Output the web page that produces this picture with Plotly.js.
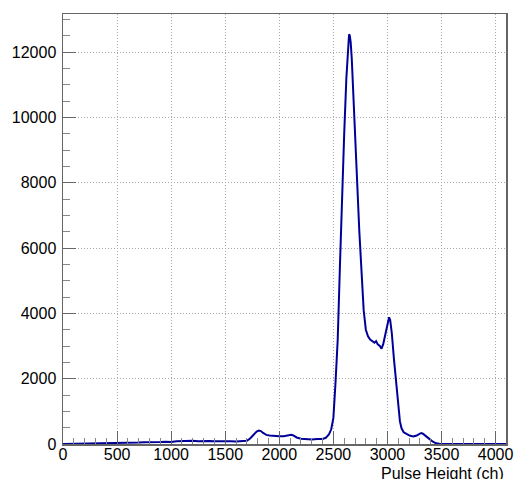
<!DOCTYPE html>
<html>
<head>
<meta charset="utf-8">
<script src="https://cdn.plot.ly/plotly-3.0.1.min.js"></script>
<style>html,body{margin:0;padding:0;background:#fff;}#chart{width:515px;height:479px;}</style>
</head>
<body>
<div id="chart"></div>
<script>
// Channel positions (ch) and counts
const channels = [0,50,100,150,200,250,300,350,400,450,500,550,600,650,700,750,800,850,900,950,
  1000,1050,1100,1150,1200,1250,1300,1350,1400,1450,1500,1550,1600,1650,1700,1730,1760,1790,1810,1830,
  1850,1880,1910,1950,2000,2040,2080,2110,2130,2160,2200,2250,2300,2350,2400,2430,2460,2480,2500,2520,
  2540,2560,2580,2600,2620,2635,2645,2652,2660,2670,2680,2700,2720,2740,2760,2780,2800,2820,2840,2860,
  2880,2895,2910,2930,2945,2960,2980,3000,3015,3025,3040,3060,3080,3100,3115,3130,3150,3180,3210,3240,
  3270,3300,3315,3330,3360,3390,3420,3450,3480,3500,3600,3700,3800,3900,4000,4096];
const counts = [0,2,3,5,5,8,10,12,15,20,22,25,35,40,45,55,50,65,60,70,
  65,85,95,90,100,85,95,90,85,90,80,85,80,90,100,170,280,380,410,395,
  340,280,260,245,235,240,255,280,260,200,160,145,140,150,155,190,300,450,800,1900,
  3200,5400,7700,9500,11200,12200,12550,12500,12300,11800,11000,9300,7800,6500,5300,4100,3500,3300,3200,3150,
  3100,3150,3050,3000,2920,3050,3350,3650,3880,3800,3400,2600,1900,1100,700,480,360,300,250,230,
  260,320,335,310,240,150,70,20,5,0,0,0,0,0,0,0];

const xTickVals = [0,500,1000,1500,2000,2500,3000,3500,4000];
const yTickVals = [0,2000,4000,6000,8000,10000,12000];
const xTitle = 'Pulse Height (ch)';

const axisColor = '#666666';
const font = {family: '"Liberation Sans", Arial, Helvetica, sans-serif', size: 16, color: '#000'};

const trace = {
  x: channels, y: counts, type: 'scatter', mode: 'lines',
  line: {color: '#000099', width: 2}, hoverinfo: 'skip'
};

const layout = {
  width: 515, height: 479,
  margin: {l: 63, r: 9, t: 14, b: 35, pad: 0},
  paper_bgcolor: '#fff', plot_bgcolor: '#fff',
  showlegend: false,
  font: font,
  xaxis: {
    range: [0, 4096], tickmode: 'array', tickvals: xTickVals, ticktext: xTickVals.map(String),
    ticks: 'inside', ticklen: 13, tickcolor: axisColor, tickwidth: 1,
    showline: true, linecolor: axisColor, linewidth: 1.5, mirror: true,
    showgrid: true, gridcolor: '#a8a8a8', gridwidth: 1, griddash: '1px,2px',
    zeroline: false, tickfont: font, ticklabelstandoff: -5,
    minor: {ticks: 'inside', ticklen: 6, dtick: 100, tick0: 0, tickcolor: '#888', showgrid: false}
  },
  yaxis: {
    range: [0, 13170], tickmode: 'array', tickvals: yTickVals, ticktext: yTickVals.map(String),
    ticks: 'inside', ticklen: 13, tickcolor: axisColor, tickwidth: 1,
    showline: true, linecolor: axisColor, linewidth: 1.5, mirror: true,
    showgrid: true, gridcolor: '#a8a8a8', gridwidth: 1, griddash: '1px,2px',
    zeroline: false, tickfont: font, ticklabelstandoff: 2,
    minor: {ticks: 'inside', ticklen: 7, dtick: 500, tick0: 0, tickcolor: '#888', showgrid: false}
  },
  annotations: [{
    text: xTitle, xref: 'paper', yref: 'paper', x: 1, y: -0.068,
    xanchor: 'right', yanchor: 'middle', showarrow: false, font: font
  }]
};

Plotly.newPlot('chart', [trace], layout, {staticPlot: true, displayModeBar: false});
</script>
</body>
</html>
